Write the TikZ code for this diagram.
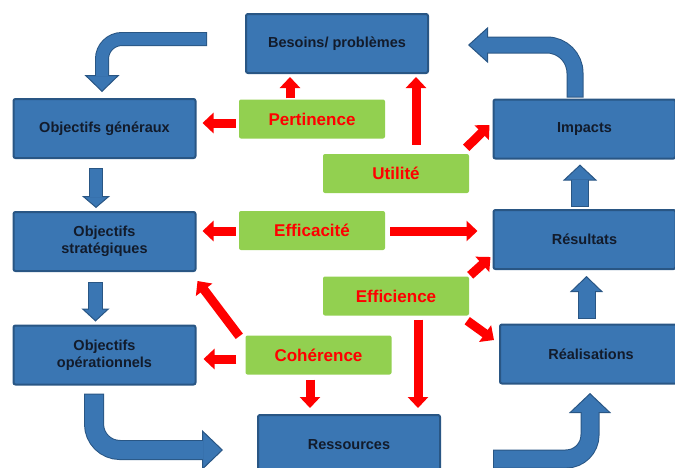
\documentclass[tikz,border=0pt]{standalone}
\usepackage{fontspec}
\setmainfont{Liberation Sans}
\definecolor{boxblue}{HTML}{3A76B3}
\definecolor{edgeblue}{HTML}{295684}
\definecolor{evalgreen}{HTML}{92D050}
\definecolor{evalred}{HTML}{FF0000}
\definecolor{labeldark}{HTML}{121B2B}
\usetikzlibrary{arrows.meta,calc}

\begin{document}
\begin{tikzpicture}[x=1pt, y=-1pt,
  box/.style={draw=edgeblue, fill=boxblue, line width=2pt, rounded corners=2pt,
    minimum width=182pt, minimum height=59pt, align=center,
    font=\fontsize{14.5}{17}\selectfont\bfseries, text=labeldark},
  crit/.style={fill=evalgreen, rounded corners=2pt, minimum width=146pt,
    minimum height=39pt, font=\fontsize{17}{19}\selectfont\bfseries, text=evalred},
  redarr/.style={-{Triangle[width=20pt,length=11pt]}, line width=9pt, evalred},
  bluearr/.style n args={3}{draw=edgeblue, line width={#1+2},
    -{Triangle[width=#2pt,length=#3pt,fill=boxblue,line width=1pt]},
    postaction={draw=boxblue, line width=#1pt, -, shorten <=1pt, shorten >={#3-1}}}
]
  \useasboundingbox (0,0) rectangle (675,467);
  \clip (0,0) rectangle (675,467);

  % Chain boxes
  \node[box] (besoins) at (337,43.5) {Besoins/ problèmes};
  \node[box] (generaux) at (104.5,128.5) {Objectifs généraux};
  \node[box] (strateg) at (104.5,241.5) {Objectifs\\stratégiques};
  \node[box] (operat) at (104.5,355) {Objectifs\\opérationnels};
  \node[box] (ressources) at (349,444.5) {Ressources};
  \node[box] (impacts) at (584.5,129) {Impacts};
  \node[box] (resultats) at (584.5,239.5) {Résultats};
  \node[box] (realis) at (591,354) {Réalisations};

  % Criteria
  \node[crit] (pertinence) at (312,119) {Pertinence};
  \node[crit] (utilite) at (396,173.5) {Utilité};
  \node[crit] (efficacite) at (312,230.5) {Efficacité};
  \node[crit] (efficience) at (396,296) {Efficience};
  \node[crit] (coherence) at (318.5,355) {Cohérence};

  % Chain arrows
  \draw[bluearr={12}{35}{17}, rounded corners=20] ($(besoins.west)+(-38,-4.5)$) -| ($(generaux.north)+(-2.5,-6)$);
  \draw[bluearr={12}{28}{12}] ($(generaux.south)+(-8.5,9)$) -- ($(strateg.north)+(-8.5,-3)$);
  \draw[bluearr={13}{28}{13}] ($(strateg.south)+(-9,10)$) -- ($(operat.north)+(-9,-3)$);
  \draw[bluearr={18}{40}{21}, rounded corners=26] ($(operat.south)+(-10.5,8)$) |- ($(ressources.west)+(-34,5.5)$);
  \draw[bluearr={17}{42}{20}, rounded corners=24] ($(ressources.east)+(52,14.5)$) -| ($(realis.south)+(-1,8.5)$);
  \draw[bluearr={16}{33}{16}] ($(realis.north)+(-4.5,-5)$) -- ($(resultats.south)+(2,6)$);
  \draw[bluearr={16}{34}{16}] ($(resultats.north)+(-4.5,-2)$) -- ($(impacts.south)+(-4.5,5)$);
  \draw[bluearr={15}{36}{20}, rounded corners=28] ($(impacts.north)+(-9.5,-1)$) |- ($(besoins.east)+(39,1.5)$);

  % Criteria arrows
  \draw[redarr] ($(pertinence.north)+(-22,-1)$) -- ($(besoins.south)+(-47,3)$);
  \draw[redarr] ($(pertinence.west)+(-3,4)$) -- ($(generaux.east)+(6,-5.5)$);
  \draw[redarr] ($(utilite.north)+(20,-9)$) -- ($(besoins.south)+(79,3)$);
  \draw[redarr] ($(utilite.north east)+(-3,-6)$) -- ($(impacts.west)+(-3,-4)$);
  \draw[redarr] ($(efficacite.west)+(-3,0.5)$) -- ($(strateg.east)+(6,-10.5)$);
  \draw[redarr] ($(efficacite.east)+(5,0.5)$) -- ($(resultats.west)+(-15,-8.5)$);
  \draw[redarr] ($(efficience.north east)+(1,-1)$) -- ($(resultats.south west)+(-2,-13)$);
  \draw[redarr] ($(efficience.south east)+(-2,5)$) -- ($(realis.west)+(-5,-14)$);
  \draw[redarr] ($(efficience.south)+(22,4)$) -- ($(ressources.north)+(69,-6)$);
  \draw[redarr] ($(coherence.north west)+(-6,1)$) -- ($(strateg.south east)+(1,9)$);
  \draw[redarr] ($(coherence.west)+(-9,4)$) -- ($(operat.east)+(7,4)$);
  \draw[redarr] ($(coherence.south)+(-8.5,5)$) -- ($(ressources.north)+(-39,-6)$);
\end{tikzpicture}
\end{document}
